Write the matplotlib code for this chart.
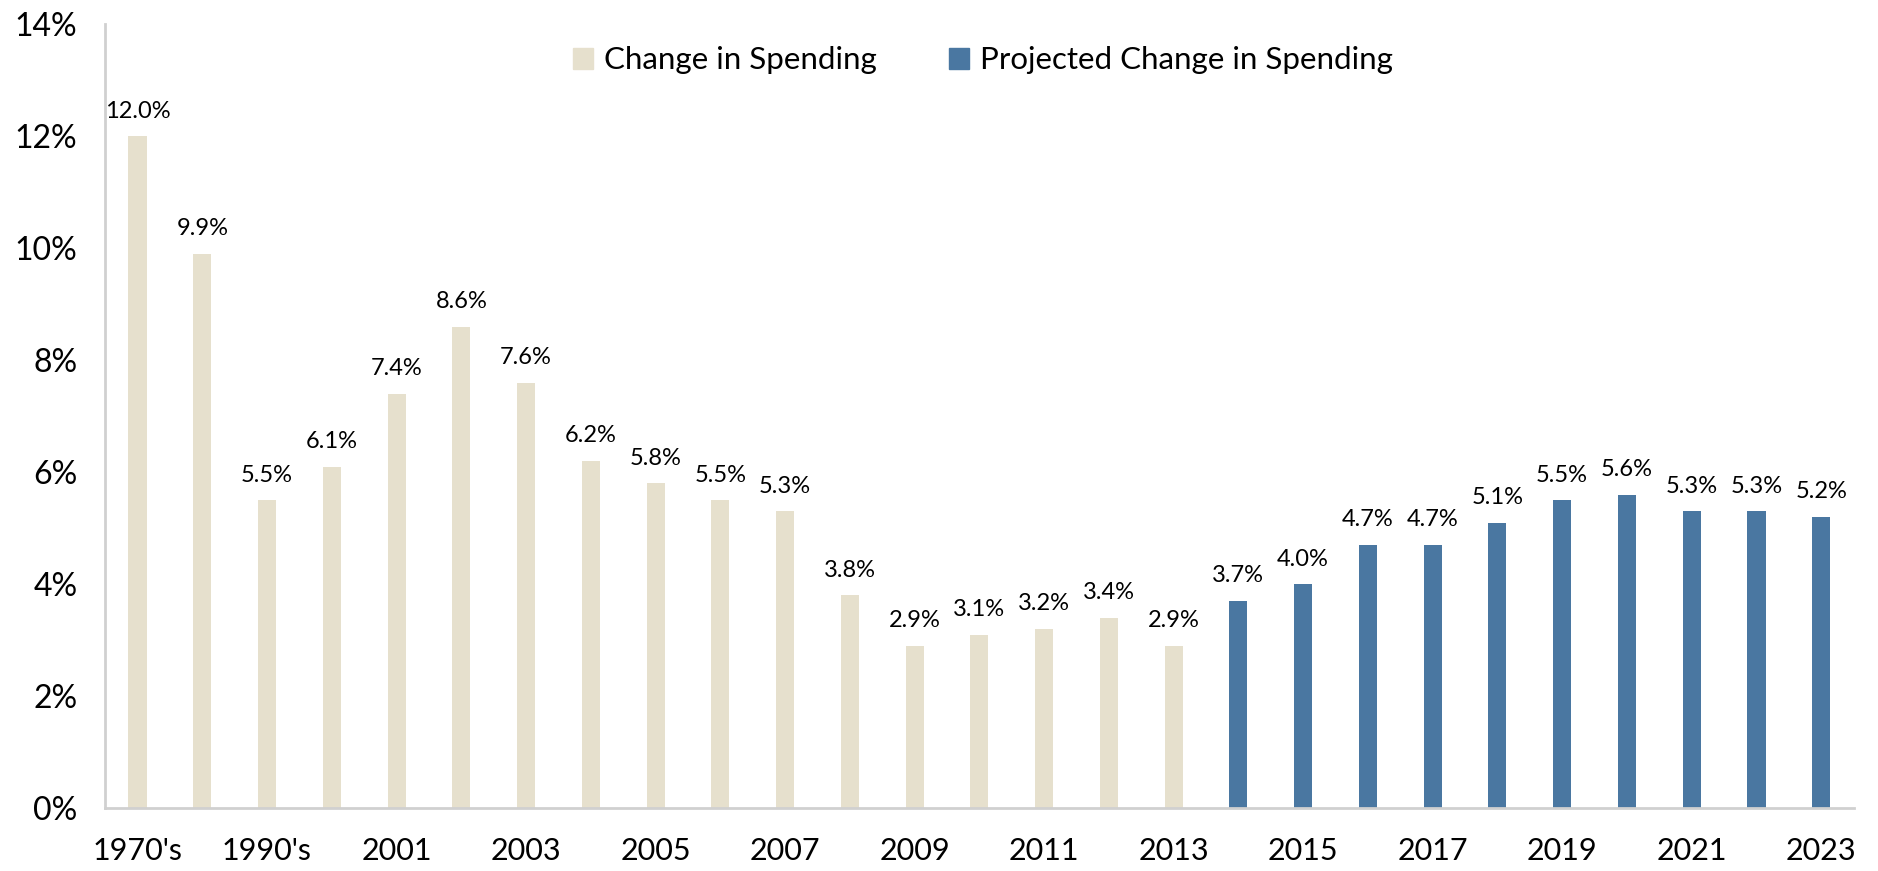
import matplotlib
matplotlib.use("Agg")
import matplotlib.pyplot as plt
from matplotlib.patches import Patch
import numpy as np

plt.rcParams['font.family'] = ['Lato', 'DejaVu Sans']

categories = ["1970's", "1980's", "1990's", "2000", "2001", "2002", "2003", "2004",
              "2005", "2006", "2007", "2008", "2009", "2010", "2011", "2012", "2013",
              "2014", "2015", "2016", "2017", "2018", "2019", "2020", "2021", "2022", "2023"]
actual = [12.0, 9.9, 5.5, 6.1, 7.4, 8.6, 7.6, 6.2, 5.8, 5.5, 5.3, 3.8, 2.9, 3.1, 3.2, 3.4, 2.9]
projected = [3.7, 4.0, 4.7, 4.7, 5.1, 5.5, 5.6, 5.3, 5.3, 5.2]
yticks = [0, 2, 4, 6, 8, 10, 12, 14]

c_actual = "#E6E0CD"
c_proj = "#4A77A1"

fig = plt.figure(figsize=(18.78, 8.71), dpi=100)
ax = fig.add_axes([0.056, 0.0723, 0.931, 0.8997])

x_all = np.arange(len(categories))
x_act = x_all[:len(actual)]
x_proj = x_all[len(actual):]
w = 0.28
ax.bar(x_act, actual, width=w, color=c_actual)
ax.bar(x_proj, projected, width=w, color=c_proj)

for xs, vals in ((x_act, actual), (x_proj, projected)):
    for xi, v in zip(xs, vals):
        ax.annotate(f"{v:.1f}%", (xi, v), xytext=(0, 18), textcoords="offset points",
                    ha="center", va="center", fontsize=17, color="black")

ax.set_xlim(-0.5, len(categories) - 0.5)
ax.set_ylim(0, 14)
ax.set_yticks(yticks)
ax.set_yticklabels([f"{t}%" for t in yticks], fontsize=23)
ax.set_xticks(x_all[::2])
ax.set_xticklabels(categories[::2], fontsize=22)
ax.tick_params(axis='both', length=0)
ax.tick_params(axis='y', pad=20)
ax.tick_params(axis='x', pad=21)

for s in ("top", "right"):
    ax.spines[s].set_visible(False)
for s in ("left", "bottom"):
    ax.spines[s].set_color("#D0D0D0")
    ax.spines[s].set_linewidth(2)

handles = [Patch(color=c_actual, label="Change in Spending"),
           Patch(color=c_proj, label="Projected Change in Spending")]
ax.legend(handles=handles, loc="center", bbox_to_anchor=(0.5235, 0.931), ncol=2,
          frameon=False, fontsize=22.5, handlelength=0.65, handleheight=0.65,
          handletextpad=0.35, columnspacing=2.3, borderpad=0, borderaxespad=0,
          bbox_transform=fig.transFigure)

fig.savefig("out.png", dpi=100)
